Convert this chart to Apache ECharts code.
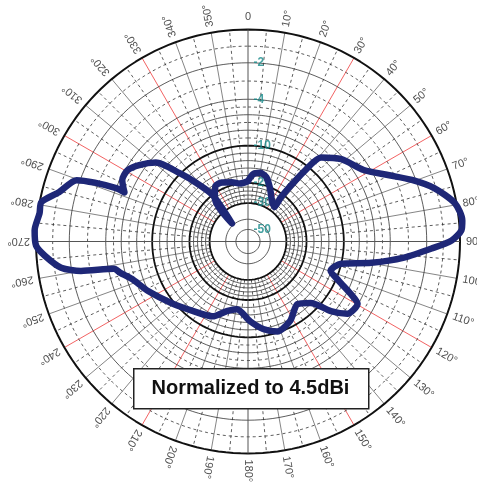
<!DOCTYPE html>
<html><head><meta charset="utf-8">
<script src="https://cdn.jsdelivr.net/npm/echarts@6/dist/echarts.min.js"></script>
<style>html,body{margin:0;padding:0;background:#fff}#c{width:477px;height:483px}#err{position:absolute;left:0;top:0;font:10px monospace;white-space:pre-wrap;color:#c00}</style>
</head><body><div id="c"></div><div id="err"></div>
<script>
// ---- data (angle in degrees, gain in dB, normalized) ----
const patternAngle = [0, 4.3, 10, 16, 22.5, 30.3, 37.4, 36.7, 37.4, 38.8, 41, 48.6, 58.3, 64.6, 69.4, 74, 79.5, 84.4, 87, 89.7, 92.2, 95.9, 99.8, 103.4, 109.5, 113.4, 117, 119.6, 126, 130, 134.5, 141.7, 152, 162, 170.2, 178.5, 189.3, 196.9, 205.3, 218.6, 231, 243.4, 252.2, 256.2, 258.5, 260, 262, 266, 268.9, 273, 277.7, 280.8, 284.6, 289.7, 291, 292, 291.7, 296, 300.6, 305.1, 310.6, 315, 318.7, 322.7, 318.4, 322.5, 329.8, 336.2, 344.8, 352, 360];
const patternGain = [-19.5, -17.6, -17.0, -17.8, -20.5, -25.5, -27.5, -22.0, -17.0, -11.1, -8.0, -6.3, -4.8, -3.3, -2.2, -1.1, -0.1, 0.2, 0.1, -0.5, -1.7, -3.2, -6.2, -10.0, -12.2, -9.6, -7.5, -6.1, -6.5, -8.4, -12.2, -14.3, -11.6, -10.3, -11.9, -14.3, -17.3, -16.2, -13.5, -11.9, -9.7, -8.0, -6.6, -5.4, -4.7, -2.5, -1.4, -0.5, 0, 0.1, -0.1, -0.1, -1.0, -1.8, -2.8, -4.0, -5.2, -4.3, -4.3, -5.2, -6.7, -9.9, -14.9, -20.0, -38.8, -22.0, -18.4, -18.4, -19.2, -20.0, -19.5];

// radial (dB) tick labels
const ringLabelLevels = [-2, -4, -10, -20, -30, -50];
const ringLabelTexts = ['-2', '-4', '-10', '-20', '-30', '-50'];
// grid rings
const ringsThick = [-10, -20, -30];
const ringsSolid = [-2, -4, -6, -8, -12, -14, -16, -18, -22, -24, -26, -28, -40, -50];
const ringsDashed = [-1, -3, -5, -7, -9];
// angle ticks
const angleTicks = [0,10,20,30,40,50,60,70,80,90,100,110,120,130,140,150,160,170,180,190,200,210,220,230,240,250,260,270,280,290,300,310,320,330,340,350];
const angleTickLabels = ['0','10°','20°','30°','40°','50°','60°','70°','80°','90','100°','110°','120°','130°','140°','150°','160°','170°','180°','190°','200°','210°','220°','230°','240°','250°','260°','270°','280°','290°','300°','310°','320°','330°','340°','350°'];
const noteText = 'Normalized to 4.5dBi';

// ---- nonlinear dB radial scale (dB -> fraction of the 0 dB radius) ----
const scaleDb   = [0, -2, -4, -10, -20, -30, -40, -50, -60];
const scaleFrac = [1, 0.843, 0.671, 0.452, 0.276, 0.181, 0.105, 0.057, 0];
function dbToR(db) {
  if (db >= scaleDb[0]) {
    const s = (scaleFrac[0] - scaleFrac[1]) / (scaleDb[0] - scaleDb[1]);
    return scaleFrac[0] + (db - scaleDb[0]) * s;
  }
  for (let i = 1; i < scaleDb.length; i++) {
    if (db >= scaleDb[i]) {
      const t = (db - scaleDb[i - 1]) / (scaleDb[i] - scaleDb[i - 1]);
      return scaleFrac[i - 1] + t * (scaleFrac[i] - scaleFrac[i - 1]);
    }
  }
  return 0;
}

try {
const chart = echarts.init(document.getElementById('c'));
const CENTER = [248, 241.5];
const R = 212;            // pixel radius of the 0 dB ring
const AXMAX = 1.12;       // radius axis extent (leaves room for the angle labels)
const INNER = dbToR(-30);
const FONT = 'Liberation Sans, Arial, sans-serif';

function base(z) {
  return {type: 'line', coordinateSystem: 'polar', polarIndex: 0, showSymbol: false, silent: true, animation: false, z: z};
}
function ringSeries(level, style) {
  const pts = [];
  for (let a = 0; a <= 360; a += 2) pts.push([dbToR(level), a]);
  return Object.assign(base(3), {data: pts, lineStyle: style});
}
function spokeSeries(a, style) {
  return Object.assign(base(2), {data: [[INNER, a], [1, a]], lineStyle: style});
}

const series = [];
// spokes
for (let a = 0; a < 360; a += 5) {
  if (a % 10 !== 0) series.push(spokeSeries(a, {color: '#333', width: 0.8, type: [3, 3]}));
  else if (a % 90 === 0) continue;
  else if (a % 30 === 0) series.push(spokeSeries(a, {color: '#f05050', width: 0.9}));
  else series.push(spokeSeries(a, {color: '#777', width: 0.9}));
}
ringsDashed.forEach(l => series.push(ringSeries(l, {color: '#333', width: 0.8, type: [3, 3]})));
ringsSolid.forEach(l => series.push(ringSeries(l, {color: '#333', width: 0.8})));
ringsThick.forEach(l => series.push(ringSeries(l, {color: '#111', width: 1.8})));
series.push(ringSeries(0, {color: '#111', width: 2}));
// crosshair axes through center
series.push(Object.assign(base(3), {data: [[1, 0], [1, 180]], lineStyle: {color: '#555', width: 1}}));
series.push(Object.assign(base(3), {data: [[1, 90], [1, 270]], lineStyle: {color: '#555', width: 1}}));
// radial labels
series.push({
  type: 'scatter', coordinateSystem: 'polar', polarIndex: 0, symbol: 'circle', symbolSize: 1,
  itemStyle: {color: 'rgba(0,0,0,0)'}, silent: true, animation: false, z: 4,
  data: ringLabelLevels.map((l, i) => ({value: [dbToR(l), 0], name: ringLabelTexts[i]})),
  label: {show: true, position: 'right', distance: 5, formatter: p => p.name, color: '#18898a', fontSize: 12, fontWeight: 'bold', fontFamily: FONT}
});
// angle labels
series.push({
  type: 'scatter', coordinateSystem: 'polar', polarIndex: 0, symbol: 'circle', symbolSize: 1,
  itemStyle: {color: 'rgba(0,0,0,0)'}, silent: true, animation: false, z: 4,
  data: angleTicks.map((a, i) => ({
    value: [a === 0 ? 1.035 : 1.028, a], name: angleTickLabels[i],
    label: a === 0 ? {rotate: 0, align: 'center', verticalAlign: 'bottom'} : {rotate: 90 - a, align: 'left', verticalAlign: 'middle'}
  })),
  label: {show: true, position: 'inside', formatter: p => p.name, color: '#222', fontSize: 11, fontFamily: FONT}
});
// radiation pattern
series.push(Object.assign(base(10), {
  smooth: 0.25,
  data: patternAngle.map((a, i) => [dbToR(patternGain[i]), a]),
  lineStyle: {color: '#1e2777', width: 6.5, join: 'round', cap: 'round'}
}));

chart.setOption({
  backgroundColor: '#fff',
  animation: false,
  polar: {center: CENTER, radius: R * AXMAX},
  angleAxis: {
    type: 'value', min: 0, max: 360, startAngle: 90, clockwise: true,
    axisLine: {show: false}, axisTick: {show: false}, axisLabel: {show: false}, splitLine: {show: false}
  },
  radiusAxis: {
    type: 'value', min: 0, max: AXMAX,
    axisLine: {show: false}, axisTick: {show: false}, axisLabel: {show: false}, splitLine: {show: false}
  },
  graphic: [
    {type: 'rect', left: 133, top: 368, z: 100, shape: {width: 235, height: 40}, style: {fill: '#fff', stroke: '#222', lineWidth: 1.5}},
    {type: 'text', x: 250.5, y: 388, z: 101, style: {text: noteText, fill: '#111', align: 'center', verticalAlign: 'middle', font: 'bold 20px "Liberation Sans", Arial, sans-serif'}}
  ],
  series: series
});
} catch (e) {
  document.getElementById('err').textContent = e.stack;
}
</script></body></html>
